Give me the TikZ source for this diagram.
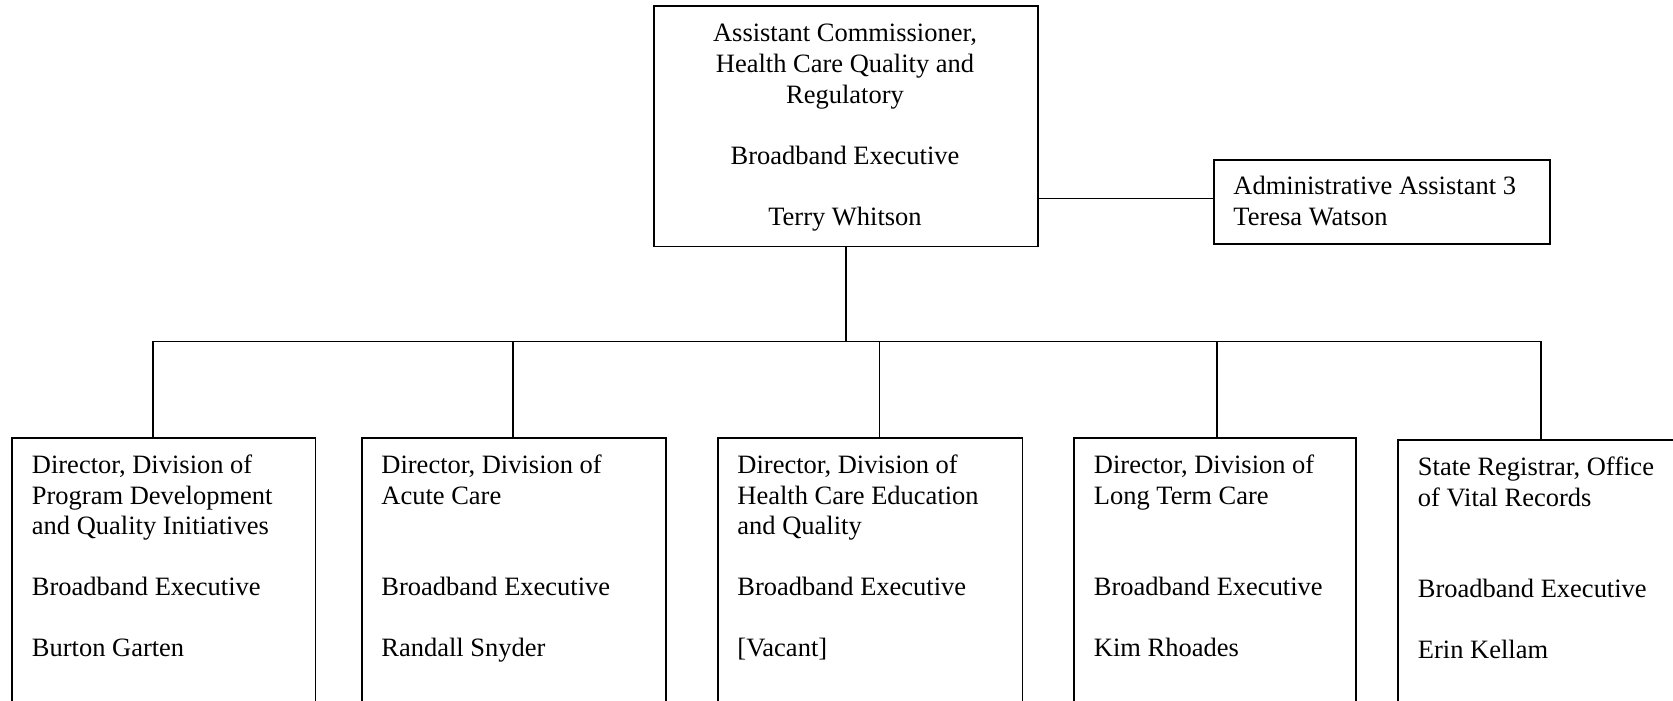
\documentclass[tikz,border=0pt]{standalone}
\usepackage{fontspec}
\setmainfont{Liberation Serif}
\begin{document}
\begin{tikzpicture}[x=0.4587pt,y=-0.4587pt,
  box/.style={draw,line width=0.85pt,inner sep=0pt,anchor=north west},
  conn/.style={line width=0.65pt},
  lbl/.style={inner sep=0pt,font=\fontsize{12.15}{14}\selectfont}]
\useasboundingbox (0,0) rectangle (1673,701);
\clip (0,0) rectangle (1673,701);
% boxes
\node[box,minimum width=176.14pt,minimum height=110.32pt] (top) at (653,5) {};
\node[box,minimum width=154.12pt,minimum height=38.53pt] (admin) at (1213,159) {};
\node[box,minimum width=139.22pt,minimum height=137.6pt] (b1) at (11,437.5) {};
\node[box,minimum width=139.44pt,minimum height=137.6pt] (b2) at (361,437.5) {};
\node[box,minimum width=139.67pt,minimum height=137.6pt] (b3) at (717,437.5) {};
\node[box,minimum width=129.35pt,minimum height=137.6pt] (b4) at (1073,437.5) {};
\node[box,minimum width=142.2pt,minimum height=137.6pt] (b5) at (1397,439.5) {};
% texts
\node[lbl,anchor=base] (ttop) at (845,42) {\begin{tabular}[t]{@{}c@{}}Assistant Commissioner,\\Health Care Quality and\\Regulatory\\ \\Broadband Executive\\ \\Terry Whitson\end{tabular}};
\node[lbl,anchor=base west] (tadmin) at (1233,195) {\begin{tabular}[t]{@{}l@{}}Administrative Assistant 3\\Teresa Watson\end{tabular}};
\node[lbl,anchor=base west] (t1) at (31.5,473.5) {\begin{tabular}[t]{@{}l@{}}Director, Division of\\Program Development\\and Quality Initiatives\\ \\Broadband Executive\\ \\Burton Garten\end{tabular}};
\node[lbl,anchor=base west] (t2) at (381,473.5) {\begin{tabular}[t]{@{}l@{}}Director, Division of\\Acute Care\\ \\ \\Broadband Executive\\ \\Randall Snyder\end{tabular}};
\node[lbl,anchor=base west] (t3) at (737,473.5) {\begin{tabular}[t]{@{}l@{}}Director, Division of\\Health Care Education\\and Quality\\ \\Broadband Executive\\ \\{[Vacant]}\end{tabular}};
\node[lbl,anchor=base west] (t4) at (1093.5,473.5) {\begin{tabular}[t]{@{}l@{}}Director, Division of\\Long Term Care\\ \\ \\Broadband Executive\\ \\Kim Rhoades\end{tabular}};
\node[lbl,anchor=base west] (t5) at (1417.5,475.5) {\begin{tabular}[t]{@{}l@{}}State Registrar, Office\\of Vital Records\\ \\ \\Broadband Executive\\ \\Erin Kellam\end{tabular}};
% connectors
\coordinate (d1) at (153,341.4);
\coordinate (d2) at (513,341.4);
\coordinate (d3) at (879.4,341.4);
\coordinate (d4) at (1217,341.4);
\coordinate (d5) at (1541,341.4);
\draw[conn] ([yshift=1.5pt]admin.west) -- ([yshift=1.5pt]admin.west -| top.east);
\draw[conn] (top.south) -- (top.south |- d1);
\draw[conn] (d1) -- (d5);
\draw[conn] (d1) -- (d1 |- b1.north);
\draw[conn] (d2) -- (d2 |- b2.north);
\draw[conn] (d3) -- (d3 |- b3.north);
\draw[conn] (d4) -- (d4 |- b4.north);
\draw[conn] (d5) -- (d5 |- b5.north);
\end{tikzpicture}
\end{document}
